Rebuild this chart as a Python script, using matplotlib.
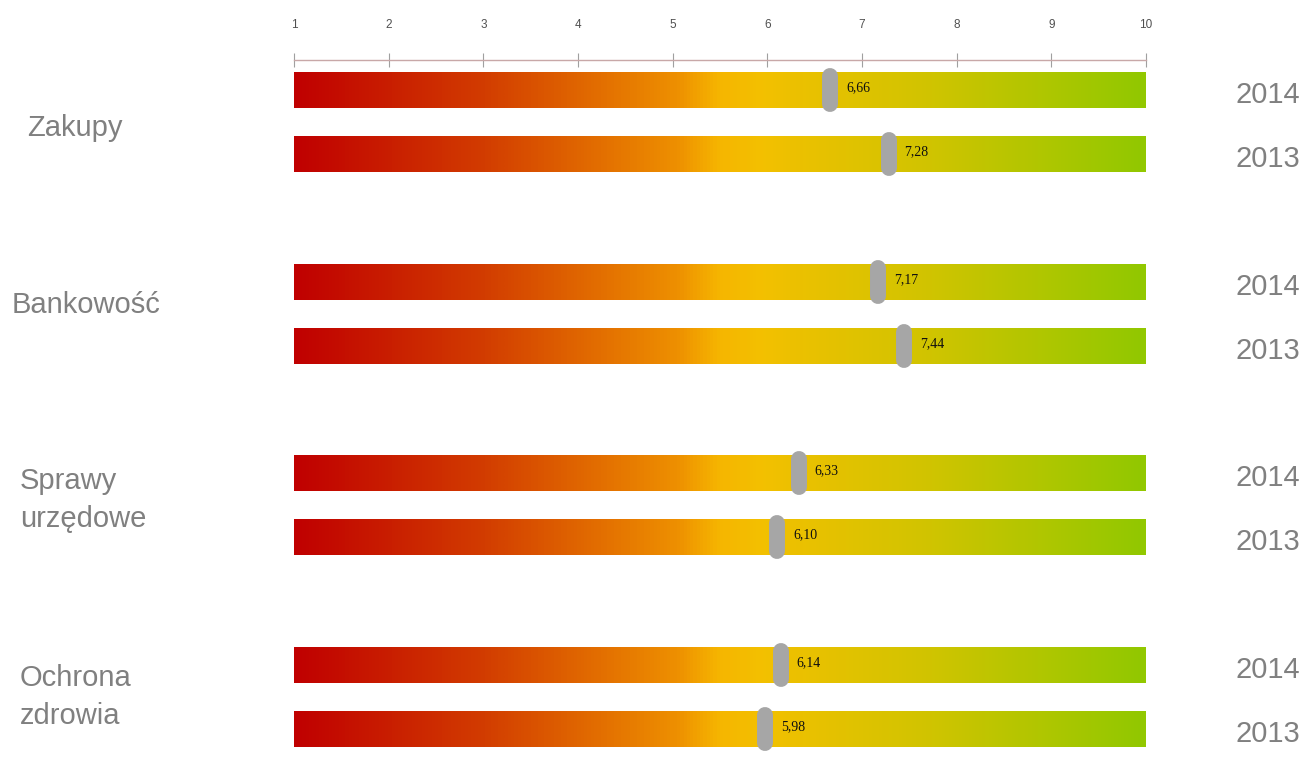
import matplotlib.pyplot as plt
import numpy as np
from matplotlib.colors import LinearSegmentedColormap

categories = ["Zakupy", "Bankowość", "Sprawy\nurzędowe", "Ochrona\nzdrowia"]
years = ["2014", "2013"]
scores_2014 = [6.66, 7.17, 6.33, 6.14]
scores_2013 = [7.28, 7.44, 6.10, 5.98]
scale_ticks = list(range(1, 11))

W, H = 1304, 764
fig = plt.figure(figsize=(W / 100, H / 100), dpi=100)
plt.rcParams['font.family'] = ['Liberation Sans', 'DejaVu Sans']

# axes spans the scale 1..10 horizontally, y in pixel units (top line at 60px)
x0, x1 = 294, 1146
top = 60
ax = fig.add_axes([x0 / W, 0, (x1 - x0) / W, (H - top) / H])
ax.set_xlim(1, 10)
ax.set_ylim(H, top)
for s in ["left", "right", "bottom"]:
    ax.spines[s].set_visible(False)
ax.spines["top"].set_color("#c8a8a8")
ax.spines["top"].set_linewidth(1)
ax.set_yticks([])
ax.xaxis.tick_top()
ax.set_xticks(scale_ticks)
ax.set_xticklabels([str(t) for t in scale_ticks])
ax.tick_params(axis="x", direction="inout", length=10, width=0.8, color="#a0a0a0",
               pad=16, labelsize=8.5, labelcolor="#505050")

cmap = LinearSegmentedColormap.from_list(
    "score",
    [(0.0, "#c00000"), (0.22, "#d23c00"), (0.45, "#ee9000"), (0.5, "#f6b600"),
     (0.55, "#f3c000"), (0.75, "#d0c400"), (1.0, "#92c800")])
grad = np.linspace(0, 1, 256).reshape(1, -1)

bar_h = 36
group_centers = [122, 314, 505, 697]
offset = 32
marker_color = "#a6a6a6"

for gi, cat in enumerate(categories):
    yc = group_centers[gi]
    for yi, (yr, val) in enumerate(zip(years, [scores_2014[gi], scores_2013[gi]])):
        y = yc - offset if yi == 0 else yc + offset
        ax.imshow(grad, cmap=cmap, aspect="auto", interpolation="bicubic",
                  extent=[1, 10, y + bar_h / 2, y - bar_h / 2], zorder=1)
        ax.plot([val, val], [y - 14, y + 14], color=marker_color, lw=11.5,
                solid_capstyle="round", zorder=3)
        ax.text(val + 0.17, y - 2, f"{val:.2f}".replace(".", ","), fontsize=10,
                family="Liberation Serif", color="#101010",
                va="center", ha="left", zorder=4)
        fig.text(1300 / W, 1 - (y + 5) / H, yr, fontsize=21, color="#808080",
                 ha="right", va="center")

label_x = [27, 12, 20, 20]
label_y = [128, 305, 500, 697]
for gi, cat in enumerate(categories):
    fig.text(label_x[gi] / W, 1 - label_y[gi] / H, cat, fontsize=21,
             color="#808080", ha="left", va="center", linespacing=1.45)

ax.set_xlim(1, 10)
ax.set_ylim(H, top)
fig.savefig("out.png", dpi=100)
